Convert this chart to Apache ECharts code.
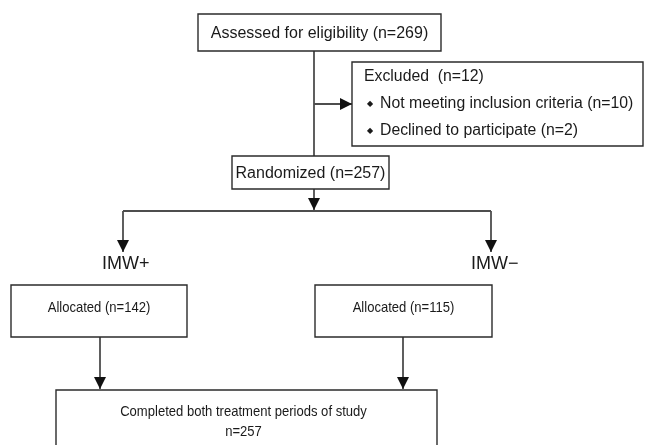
<!DOCTYPE html>
<html>
<head>
<meta charset="utf-8">
<script src="https://cdn.jsdelivr.net/npm/echarts@6/dist/echarts.min.js"></script>
<style>
  html, body { margin: 0; padding: 0; background: #fff; }
  #chart { width: 648px; height: 445px; }
</style>
</head>
<body>
<div id="chart"></div>
<script>
// --- flow data ---
const stages = ['Assessed for eligibility', 'Excluded', 'Randomized', 'Allocated', 'Allocated', 'Completed both treatment periods of study'];
const counts = [269, 12, 257, 142, 115, 257];
const exclusionReasons = ['Not meeting inclusion criteria', 'Declined to participate'];
const exclusionCounts = [10, 2];
const arms = ['IMW+', 'IMW\u2212'];

// --- layout (pixel space of the hidden axes) ---
const boxRects = [
  [198, 14, 441, 51],
  [352, 62, 643, 146],
  [232, 156, 389, 189],
  [11, 285, 187, 337],
  [315, 285, 492, 337],
  [56, 390, 437, 460]
];
const armLabelPos = [[102, 264], [471, 264]];
// polyline + whether it ends with an arrow head
const connectors = [
  [[[314, 51], [314, 156]], false],
  [[[314, 104], [352, 104]], true],
  [[[314, 189], [314, 210]], true],
  [[[123, 211], [491, 211]], false],
  [[[123, 211], [123, 252]], true],
  [[[491, 211], [491, 252]], true],
  [[[100, 337], [100, 389]], true],
  [[[403, 337], [403, 389]], true]
];

const FONT = '"Liberation Sans", Arial, sans-serif';
const INK = '#2b2b2b';
const LINK = '#4d4d4d';
const TXT = '#1a1a1a';

function boxText(i) {
  if (i === 1) {
    let s = '{t|' + stages[1] + '  (n=' + counts[1] + ')}';
    exclusionReasons.forEach((r, k) => {
      s += '\n{d|\u25C6}{t|' + r + ' (n=' + exclusionCounts[k] + ')}';
    });
    return s;
  }
  if (i === 5) return stages[5] + '\nn=' + counts[5];
  return stages[i] + ' (n=' + counts[i] + ')';
}

const chart = echarts.init(document.getElementById('chart'));

chart.setOption({
  animation: false,
  grid: { left: 0, right: 0, top: 0, bottom: 0 },
  xAxis: { type: 'value', min: 0, max: 648, show: false },
  yAxis: { type: 'value', min: 0, max: 445, inverse: true, show: false },
  series: [
    {
      type: 'custom',
      clip: false,
      data: connectors.map((c, i) => [i]),
      renderItem: function (params, api) {
        const c = connectors[api.value(0)];
        const pts = c[0].map(p => api.coord(p));
        const children = [{
          type: 'polyline',
          shape: { points: pts },
          style: { stroke: LINK, lineWidth: 1.8, fill: null }
        }];
        if (c[1]) {
          const a = pts[pts.length - 2], b = pts[pts.length - 1];
          const ang = Math.atan2(b[1] - a[1], b[0] - a[0]);
          const len = 12, half = 6;
          const bx = b[0] - len * Math.cos(ang), by = b[1] - len * Math.sin(ang);
          const nx = -Math.sin(ang) * half, ny = Math.cos(ang) * half;
          children.push({
            type: 'polygon',
            shape: { points: [[b[0], b[1]], [bx + nx, by + ny], [bx - nx, by - ny]] },
            style: { fill: '#111', stroke: null }
          });
        }
        return { type: 'group', children: children };
      }
    },
    {
      type: 'custom',
      clip: false,
      data: boxRects.map((b, i) => [i]),
      renderItem: function (params, api) {
        const i = api.value(0);
        const r = boxRects[i];
        const p0 = api.coord([r[0], r[1]]);
        const p1 = api.coord([r[2], r[3]]);
        const w = p1[0] - p0[0], h = p1[1] - p0[1];
        let text;
        if (i === 1) {
          text = {
            type: 'text',
            x: p0[0] + 12, y: p0[1] + 42,
            style: {
              text: boxText(i), verticalAlign: 'middle', align: 'left',
              lineHeight: 27,
              rich: {
                t: { fontSize: 15.8, fontFamily: FONT, fill: TXT, lineHeight: 27 },
                d: { fontSize: 8, fontFamily: FONT, fill: TXT, lineHeight: 27, padding: [0, 7, 0, 3] }
              }
            }
          };
        } else if (i === 5) {
          text = {
            type: 'text',
            x: p0[0] + w / 2 - 3, y: 422, scaleX: 0.9,
            style: {
              text: boxText(i), align: 'center', verticalAlign: 'middle',
              fontSize: 14.5, fontFamily: FONT, fill: TXT, lineHeight: 20
            }
          };
        } else if (i >= 3) {
          text = {
            type: 'text',
            x: p0[0] + w / 2, y: p0[1] + 23, scaleX: 0.9,
            style: {
              text: boxText(i), align: 'center', verticalAlign: 'middle',
              fontSize: 14.5, fontFamily: FONT, fill: TXT
            }
          };
        } else {
          text = {
            type: 'text',
            x: p0[0] + w / 2, y: p0[1] + h / 2 + 1,
            style: {
              text: boxText(i), align: 'center', verticalAlign: 'middle',
              fontSize: 16, fontFamily: FONT, fill: TXT
            }
          };
        }
        return {
          type: 'group',
          children: [
            {
              type: 'rect',
              shape: { x: p0[0], y: p0[1], width: w, height: h },
              style: { fill: '#fff', stroke: INK, lineWidth: 1.4 }
            },
            text
          ]
        };
      }
    },
    {
      type: 'custom',
      clip: false,
      data: arms.map((a, i) => [i]),
      renderItem: function (params, api) {
        const i = api.value(0);
        const p = api.coord(armLabelPos[i]);
        return {
          type: 'text',
          x: p[0], y: p[1],
          style: {
            text: arms[i], align: 'left', verticalAlign: 'middle',
            fontSize: 18, fontFamily: FONT, fill: TXT
          }
        };
      }
    }
  ]
});

window.addEventListener('resize', () => chart.resize());
</script>
</body>
</html>
